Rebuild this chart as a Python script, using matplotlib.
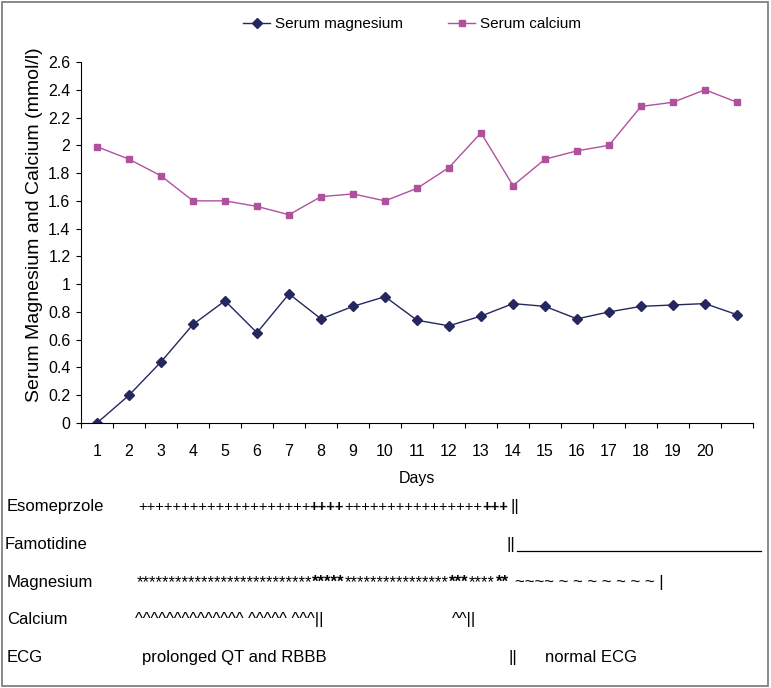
import numpy as np
import matplotlib
matplotlib.use("Agg")
import matplotlib.pyplot as plt
from matplotlib.lines import Line2D
from matplotlib.patches import Rectangle
from matplotlib.ticker import FuncFormatter

# values, one per day (21 samples, last day unlabeled)
day_labels = ["1", "2", "3", "4", "5", "6", "7", "8", "9", "10",
              "11", "12", "13", "14", "15", "16", "17", "18", "19", "20", ""]
serum_mg = [0.00, 0.20, 0.44, 0.71, 0.88, 0.65, 0.93, 0.75, 0.84, 0.91,
            0.74, 0.70, 0.77, 0.86, 0.84, 0.75, 0.80, 0.84, 0.85, 0.86, 0.78]
serum_ca = [1.99, 1.90, 1.78, 1.60, 1.60, 1.56, 1.50, 1.63, 1.65, 1.60,
            1.69, 1.84, 2.09, 1.71, 1.90, 1.96, 2.00, 2.28, 2.31, 2.40, 2.31]

MG_COLOR = "#25275f"
CA_COLOR = "#b0519d"
NARROW = ["Liberation Sans Narrow", "Liberation Sans", "DejaVu Sans"]
ARIAL = ["Liberation Sans", "DejaVu Sans"]

W, H = 771, 688


def fx(x):
    return x / W


def fy(y):
    return 1 - y / H


fig = plt.figure(figsize=(W / 100, H / 100), dpi=100)
ax = fig.add_axes([fx(81), fy(423), 672 / W, 361 / H])

days = np.arange(1, len(serum_mg) + 1)
ax.plot(days, serum_mg, color=MG_COLOR, lw=1.0, marker="D", ms=5.5,
        label="Serum magnesium")
ax.plot(days, serum_ca, color=CA_COLOR, lw=1.0, marker="s", ms=5,
        label="Serum calcium")

ax.set_xlim(0.5, len(days) + 0.5)
ax.set_ylim(0, 2.6)
ax.set_yticks(np.arange(0, 2.61, 0.2))
ax.yaxis.set_major_formatter(FuncFormatter(lambda v, _: f"{round(v, 1):g}"))
ax.set_xticks(np.arange(0.5, len(days) + 1, 1))
ax.set_xticklabels([])
ax.set_xticks(days, minor=True)
ax.set_xticklabels(day_labels, minor=True)
ax.tick_params(which="major", direction="out", length=3.6, width=0.8)
ax.tick_params(axis="x", which="minor", length=0, pad=15)
ax.tick_params(axis="y", pad=4)
for lab in ax.get_xticklabels(minor=True) + ax.get_yticklabels():
    lab.set_family(NARROW)
    lab.set_fontsize(11.5)
for s in ("top", "right"):
    ax.spines[s].set_visible(False)
for s in ("left", "bottom"):
    ax.spines[s].set_linewidth(0.8)

ax.set_xlabel("Days", family=NARROW, fontsize=11.5)
ax.xaxis.set_label_coords(0.5, -(471 - 423) / 361)
fig.text(fx(35), fy(225), "Serum Magnesium and Calcium (mmol/l)",
         rotation=90, ha="center", va="center", family=ARIAL, fontsize=14)

fig.legend(loc="center", bbox_to_anchor=(fx(412), fy(24)), ncol=2,
           frameon=False, handlelength=1.75, handletextpad=0.3,
           columnspacing=3.0, prop={"family": NARROW, "size": 11})

# treatment timeline underneath the chart
rows = ["Esomeprzole", "Famotidine", "Magnesium", "Calcium", "ECG"]
baselines = [511, 549, 587, 624, 662]
label_x = [7, 5, 7, 7, 7]
for name, y, x in zip(rows, baselines, label_x):
    fig.text(fx(x), fy(y), name, va="baseline", family=ARIAL, fontsize=12)


def mark(x, y, s, size=12, weight="normal"):
    fig.text(fx(x), fy(y), s, va="baseline", family=ARIAL, fontsize=size,
             fontweight=weight)


# Esomeprazole: plain run, denser (bold) stretches, then stop bars
mark(138, 511, "+" * 20, 10.5)
mark(309, 511, "+" * 4, 10.5, "bold")
mark(344, 511, "+" * 16, 10.5)
mark(482, 511, "+" * 3, 10.5, "bold")
mark(510, 511, "||")
# Famotidine
mark(507, 549, "||")
fig.add_artist(Line2D([fx(517), fx(761)], [fy(551), fy(551)],
                      transform=fig.transFigure, color="black", lw=0.9))
# Magnesium
mark(137, 587, "*" * 27)
mark(312, 587, "*" * 5, weight="bold")
mark(345, 587, "*" * 16)
mark(449, 587, "***", weight="bold")
mark(469, 587, "*" * 4)
mark(496, 587, "**", weight="bold")
mark(515, 587, "~~~~" + " ~" * 7 + " |")
# Calcium
mark(135, 624, "^" * 14 + " " + "^" * 5 + " " + "^" * 3 + "||")
mark(452, 624, "^^||")
# ECG
mark(142, 662, "prolonged QT and RBBB")
mark(508, 662, "||")
mark(545, 662, "normal ECG")

fig.add_artist(Rectangle((fx(1.5), fy(686)), (767.5 - 1.5) / W, (686 - 1.5) / H,
                         transform=fig.transFigure, fill=False,
                         edgecolor="#808080", lw=1.3))

fig.savefig("out.png", dpi=100)
